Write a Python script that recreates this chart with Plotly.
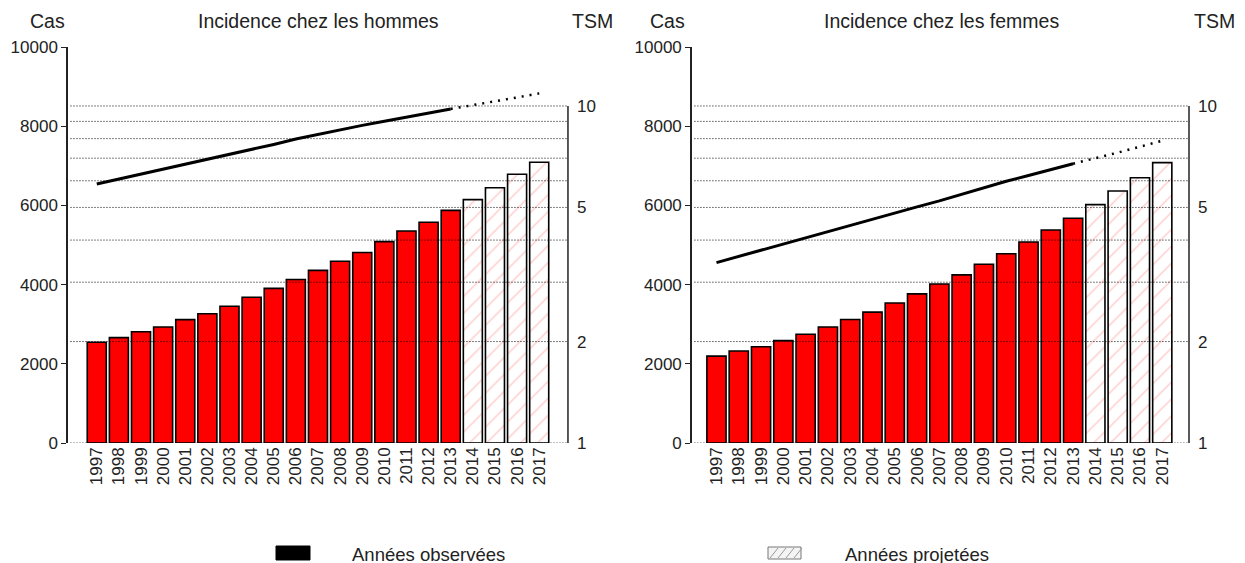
import plotly.graph_objects as go

# Données
years = list(range(1997, 2018))
n_observed = 17  # 1997-2013 observées, 2014-2017 projetées

men_cases = [2545, 2660, 2810, 2930, 3115, 3265, 3455, 3680, 3905, 4130, 4360,
             4590, 4810, 5085, 5355, 5575, 5875, 6145, 6445, 6785, 7090]
women_cases = [2195, 2325, 2430, 2585, 2745, 2930, 3120, 3305, 3535, 3765, 4015,
               4245, 4515, 4780, 5075, 5380, 5675, 6020, 6365, 6700, 7080]

men_tsm = [5.87, 6.07, 6.28, 6.49, 6.70, 6.92, 7.16, 7.42, 7.69, 7.98, 8.24,
           8.50, 8.76, 9.01, 9.26, 9.52, 9.80, 10.05, 10.3, 10.6, 10.9]
women_tsm = [3.43, 3.58, 3.73, 3.89, 4.05, 4.23, 4.42, 4.62, 4.81, 5.02, 5.23,
             5.47, 5.73, 5.98, 6.22, 6.47, 6.74, 6.99, 7.27, 7.57, 7.89]

cases_ticks = [0, 2000, 4000, 6000, 8000, 10000]
tsm_ticks = [1, 2, 5, 10]
tsm_grid = [1, 2, 3, 4, 5, 6, 7, 8, 9, 10]

panels = [
    {"title": "Incidence chez les hommes", "cases": men_cases, "tsm": men_tsm,
     "x": "x", "y": "y", "y2": "y2", "xr": [1995.7, 2018.3]},
    {"title": "Incidence chez les femmes", "cases": women_cases, "tsm": women_tsm,
     "x": "x2", "y": "y3", "y2": "y4", "xr": [1995.9, 2018.2]},
]

RED = "#ff0000"
FONT = "Liberation Sans, Arial, sans-serif"

fig = go.Figure()

for p in panels:
    obs_years = years[:n_observed]
    proj_years = years[n_observed:]
    fig.add_trace(go.Bar(
        x=obs_years, y=p["cases"][:n_observed], xaxis=p["x"], yaxis=p["y"],
        marker=dict(color=RED, line=dict(color="black", width=1.6)),
        showlegend=False,
    ))
    fig.add_trace(go.Bar(
        x=proj_years, y=p["cases"][n_observed:], xaxis=p["x"], yaxis=p["y"],
        marker=dict(color="white", line=dict(color="black", width=1.6),
                    pattern=dict(shape="/", fgcolor="#ff9a9a", bgcolor="white",
                                 size=12, solidity=0.12)),
        showlegend=False,
    ))
    fig.add_trace(go.Scatter(
        x=obs_years, y=p["tsm"][:n_observed], xaxis=p["x"], yaxis=p["y2"],
        mode="lines", line=dict(color="black", width=3), showlegend=False,
    ))
    fig.add_trace(go.Scatter(
        x=years[n_observed - 1:], y=p["tsm"][n_observed - 1:], xaxis=p["x"], yaxis=p["y2"],
        mode="lines", line=dict(color="black", width=2.5, dash="2px,6px"), showlegend=False,
    ))

    # lignes de grille pointillées (au-dessus des barres)
    for g in tsm_grid:
        fig.add_shape(type="line", xref=p["x"] + " domain", yref=p["y2"],
                      x0=0.005, x1=1, y0=g, y1=g, layer="above",
                      line=dict(color="black", width=1, dash="1px,2px"))
    # axe droit de 1 à 10
    fig.add_shape(type="line", xref=p["x"] + " domain", yref=p["y2"],
                  x0=1, x1=1, y0=1, y1=10, layer="above",
                  line=dict(color="#222", width=1.5))

x_common = dict(tickvals=years, tickangle=-90, showline=False, showgrid=False,
                zeroline=False, ticks="", automargin=False,
                tickfont=dict(size=17, color="#222"))
y_common = dict(range=[0, 10000], tickvals=cases_ticks, tickformat="d", showline=True,
                linecolor="#222", linewidth=1.5, ticks="outside", ticklen=5, tickcolor="#222",
                showgrid=False, zeroline=False, automargin=False,
                tickfont=dict(size=17, color="#222"))
y2_common = dict(type="log", range=[0, 1.175], tickvals=tsm_ticks, side="right",
                 showline=False, showgrid=False, zeroline=False, ticks="", automargin=False,
                 ticklabelstandoff=8, tickfont=dict(size=17, color="#222"))

# la page html ajoute 8 px de marge : on décale les marges d'autant
fig.update_layout(
    width=1245, height=563,
    margin=dict(l=60, r=64, t=39, b=128),
    plot_bgcolor="white", paper_bgcolor="white",
    font=dict(family=FONT, color="#222"),
    barmode="overlay", bargap=0.14,
    xaxis=dict(domain=[0, 0.446], range=panels[0]["xr"], anchor="y", **x_common),
    yaxis=dict(anchor="x", **y_common),
    yaxis2=dict(anchor="x", overlaying="y", **y2_common),
    xaxis2=dict(domain=[0.5566, 1], range=panels[1]["xr"], anchor="y3", **x_common),
    yaxis3=dict(anchor="x2", **y_common),
    yaxis4=dict(anchor="x2", overlaying="y3", **y2_common),
)


def px_x(v):
    return (v - 68) / 1121


def px_y(v):
    return (443 - v) / 396


# titres et libellés d'axes
labels = [("Cas", 47), (panels[0]["title"], 318), ("TSM", 592),
          ("Cas", 667), (panels[1]["title"], 941), ("TSM", 1215)]
for text, xpix in labels:
    fig.add_annotation(text=text, x=px_x(xpix), y=px_y(21), xref="paper", yref="paper",
                       xanchor="center", yanchor="middle", showarrow=False,
                       font=dict(size=19.5, color="#222"))

# légende en bas
fig.add_shape(type="rect", xref="paper", yref="paper", x0=px_x(276), x1=px_x(310),
              y0=px_y(560), y1=px_y(546), fillcolor="black", line=dict(color="black", width=1))
fig.add_shape(type="rect", xref="paper", yref="paper", x0=px_x(768), x1=px_x(801),
              y0=px_y(559), y1=px_y(547), fillcolor="#f4f4f4", line=dict(color="#777", width=1))
for k in range(4):
    fig.add_shape(type="line", xref="paper", yref="paper",
                  x0=px_x(770 + 8 * k), x1=px_x(778 + 8 * k), y0=px_y(558), y1=px_y(548),
                  line=dict(color="#999", width=1))
fig.add_annotation(text="Années observées", x=px_x(350), y=px_y(554), xref="paper", yref="paper",
                   xanchor="left", yanchor="middle", showarrow=False,
                   font=dict(size=18.5, color="#222"))
fig.add_annotation(text="Années projetées", x=px_x(843), y=px_y(554), xref="paper", yref="paper",
                   xanchor="left", yanchor="middle", showarrow=False,
                   font=dict(size=18.5, color="#222"))

fig.write_html("out.html")
